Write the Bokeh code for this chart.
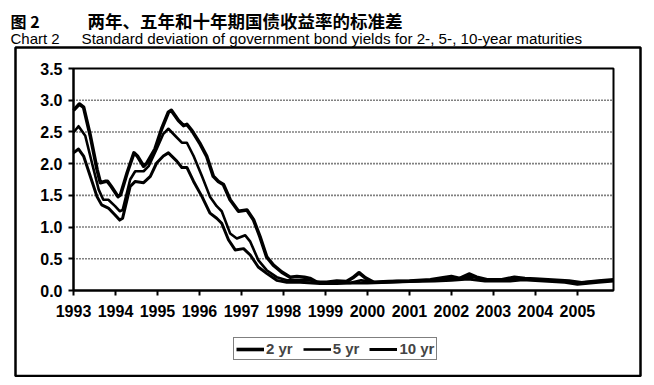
from bokeh.plotting import figure
from bokeh.models import (Range1d, FixedTicker, Label, BoxAnnotation, Legend, LegendItem,
                          NumeralTickFormatter, LinearAxis)
from bokeh.embed import file_html
from bokeh.resources import INLINE

# ---- data ----
x_2yr = [1993.0, 1993.14, 1993.24, 1993.4, 1993.56, 1993.64, 1993.75, 1993.81, 1993.9, 1994.06,
         1994.12, 1994.28, 1994.44, 1994.52, 1994.67, 1994.75, 1994.94, 1995.1, 1995.26, 1995.33,
         1995.5, 1995.62, 1995.7, 1995.82, 1996.0, 1996.17, 1996.33, 1996.45, 1996.57, 1996.73,
         1996.93, 1997.13, 1997.29, 1997.44, 1997.6, 1997.76, 1997.96, 1998.16, 1998.32, 1998.5,
         1998.63, 1998.8, 1999.03, 1999.27, 1999.5, 1999.65, 1999.8, 1999.95, 2000.15, 2000.5,
         2001.0, 2001.5, 2001.8, 2002.0, 2002.2, 2002.42, 2002.6, 2002.85, 2003.2, 2003.5,
         2003.75, 2004.0, 2004.5, 2004.8, 2005.1, 2005.5, 2005.86]
y_2yr = [2.84, 2.94, 2.89, 2.44, 1.91, 1.70, 1.72, 1.72, 1.64, 1.48,
         1.51, 1.86, 2.17, 2.12, 1.96, 2.01, 2.23, 2.55, 2.81, 2.84,
         2.68, 2.60, 2.62, 2.52, 2.33, 2.12, 1.80, 1.72, 1.67, 1.43,
         1.25, 1.27, 1.11, 0.85, 0.53, 0.40, 0.29, 0.21, 0.22, 0.21,
         0.19, 0.13, 0.13, 0.15, 0.14, 0.20, 0.28, 0.20, 0.13, 0.14,
         0.15, 0.17, 0.20, 0.22, 0.19, 0.26, 0.21, 0.17, 0.17, 0.21,
         0.19, 0.18, 0.16, 0.15, 0.12, 0.15, 0.17]

x_5yr = [1993.0, 1993.12, 1993.28, 1993.44, 1993.6, 1993.71, 1993.83, 1993.99, 1994.1, 1994.17,
         1994.35, 1994.47, 1994.67, 1994.79, 1994.98, 1995.14, 1995.26, 1995.42, 1995.58, 1995.7,
         1995.86, 1996.06, 1996.25, 1996.41, 1996.53, 1996.73, 1996.89, 1997.09, 1997.21, 1997.4,
         1997.6, 1997.84, 1998.08, 1998.4, 1998.63, 1998.87, 1999.27, 1999.6, 1999.85, 2000.2,
         2000.7, 2001.2, 2001.7, 2002.0, 2002.3, 2002.5, 2002.8, 2003.3, 2003.6, 2004.0,
         2004.6, 2005.0, 2005.4, 2005.86]
y_5yr = [2.49, 2.59, 2.44, 2.01, 1.59, 1.43, 1.43, 1.33, 1.25, 1.27,
         1.75, 1.88, 1.88, 1.96, 2.23, 2.47, 2.55, 2.44, 2.33, 2.33,
         2.12, 1.80, 1.48, 1.33, 1.25, 0.90, 0.82, 0.87, 0.77, 0.48,
         0.32, 0.21, 0.16, 0.16, 0.16, 0.13, 0.13, 0.12, 0.16, 0.13,
         0.15, 0.15, 0.17, 0.18, 0.20, 0.22, 0.16, 0.16, 0.19, 0.17,
         0.15, 0.12, 0.14, 0.16]

x_10yr = [1993.0, 1993.12, 1993.24, 1993.4, 1993.56, 1993.67, 1993.83, 1993.99, 1994.1, 1994.17,
          1994.35, 1994.47, 1994.67, 1994.83, 1994.98, 1995.14, 1995.26, 1995.46, 1995.58, 1995.7,
          1995.86, 1996.06, 1996.25, 1996.41, 1996.53, 1996.69, 1996.85, 1997.05, 1997.21, 1997.4,
          1997.6, 1997.84, 1998.08, 1998.4, 1998.87, 1999.27, 1999.6, 2000.0, 2000.5, 2001.0,
          2001.6, 2002.0, 2002.4, 2002.8, 2003.4, 2003.7, 2004.2, 2004.7, 2005.0, 2005.5, 2005.86]
y_10yr = [2.17, 2.23, 2.12, 1.80, 1.48, 1.35, 1.30, 1.19, 1.11, 1.14,
          1.64, 1.72, 1.70, 1.80, 2.01, 2.12, 2.17, 2.04, 1.94, 1.94,
          1.72, 1.48, 1.22, 1.14, 1.06, 0.80, 0.64, 0.66, 0.56, 0.37,
          0.27, 0.16, 0.13, 0.13, 0.11, 0.11, 0.12, 0.12, 0.13, 0.14,
          0.15, 0.16, 0.18, 0.15, 0.15, 0.17, 0.15, 0.13, 0.10, 0.13, 0.15]

year_ticks = [1993, 1994, 1995, 1996, 1997, 1998, 1999, 2000, 2001, 2002, 2003, 2004, 2005]
y_ticks = [0.0, 0.5, 1.0, 1.5, 2.0, 2.5, 3.0, 3.5]
grid_levels = [0.5, 1.0, 1.5, 2.0, 2.5, 3.0]
series_names = ["2 yr", "5 yr", "10 yr"]
x_lo, x_hi = 1993.0, 2005.86
y_lo, y_hi = 0.0, 3.5

title_cn_num = "图 2"
title_cn = "两年、五年和十年期国债收益率的标准差"
title_en_num = "Chart 2"
title_en = "Standard deviation of government bond yields for 2-, 5-, 10-year maturities"

FONT = "Liberation Sans"
CJK = "Noto Sans CJK SC"

# ---- canvas geometry (pixels) ----
W, H = 646, 377
PL, PR, PT, PB = 73, 613, 68, 290   # plotting area inside the canvas
xs = (PR - PL) / (x_hi - x_lo)
ys = (PB - PT) / (y_hi - y_lo)
x_range = Range1d(x_lo - PL / xs, x_hi + (W - PR) / xs)
y_range = Range1d(y_lo - (H - PB) / ys, y_hi + PT / ys)

p = figure(width=W, height=H, output_backend="svg", toolbar_location=None,
           x_range=x_range, y_range=y_range, x_axis_location=None, y_axis_location=None,
           min_border=0)
p.background_fill_color = "white"
p.border_fill_color = "white"
p.outline_line_color = None
p.xgrid.visible = False
p.ygrid.visible = False

# dotted grid lines inside the plotting area
p.segment(x0=[x_lo] * len(grid_levels), x1=[x_hi] * len(grid_levels),
          y0=grid_levels, y1=grid_levels, line_color="black", line_width=1.6, line_dash="1 2")

# plot-area frame
p.quad(left=[x_lo], right=[x_hi], bottom=[y_lo], top=[y_hi], fill_color=None,
       line_color="black", line_width=2)

r2 = p.line(x_2yr, y_2yr, line_color="black", line_width=3.6, line_join="round")
r5 = p.line(x_5yr, y_5yr, line_color="black", line_width=2.6, line_join="round")
r10 = p.line(x_10yr, y_10yr, line_color="black", line_width=3.0, line_join="round")

xaxis = LinearAxis(fixed_location=y_lo, bounds=(x_lo, x_hi), ticker=FixedTicker(ticks=year_ticks))
yaxis = LinearAxis(fixed_location=x_lo, bounds=(y_lo, y_hi), ticker=FixedTicker(ticks=y_ticks),
                   formatter=NumeralTickFormatter(format="0.0"))
for ax in (xaxis, yaxis):
    ax.axis_line_color = "black"
    ax.axis_line_width = 2
    ax.major_tick_line_color = "black"
    ax.major_tick_line_width = 2
    ax.major_tick_in = 0
    ax.major_tick_out = 5
    ax.minor_tick_line_color = None
    ax.major_label_text_font = FONT
    ax.major_label_text_font_size = "16px"
    ax.major_label_text_font_style = "bold"
    ax.major_label_text_color = "black"
xaxis.major_label_standoff = 9
yaxis.major_label_standoff = 6
p.add_layout(xaxis, "below")
p.add_layout(yaxis, "left")

# outer chart box
p.add_layout(BoxAnnotation(left=15, right=640, top=330, bottom=1.5,
                           left_units="screen", right_units="screen",
                           top_units="screen", bottom_units="screen",
                           fill_alpha=0, line_color="black", line_alpha=1.0, line_width=2.5))

# titles
p.add_layout(Label(x=10, y=357, x_units="screen", y_units="screen", text=title_cn_num,
                   text_font=CJK, text_font_size="16px", text_font_style="bold",
                   text_color="black", text_baseline="alphabetic"))
p.add_layout(Label(x=87, y=357, x_units="screen", y_units="screen", text=title_cn,
                   text_font=CJK, text_font_size="17.5px", text_font_style="bold",
                   text_color="black", text_baseline="alphabetic"))
p.add_layout(Label(x=10, y=339, x_units="screen", y_units="screen", text=title_en_num,
                   text_font=FONT, text_font_size="15px",
                   text_color="black", text_baseline="alphabetic"))
p.add_layout(Label(x=81, y=339, x_units="screen", y_units="screen", text=title_en,
                   text_font=FONT, text_font_size="15.2px",
                   text_color="black", text_baseline="alphabetic"))

legend = Legend(items=[LegendItem(label=series_names[0], renderers=[r2]),
                       LegendItem(label=series_names[1], renderers=[r5]),
                       LegendItem(label=series_names[2], renderers=[r10])],
                orientation="horizontal", location=(233, 17),
                label_text_font=FONT, label_text_font_size="15px", label_text_font_style="bold",
                glyph_width=28, glyph_height=14, label_standoff=2, spacing=10,
                padding=2, margin=0, border_line_color="black", border_line_width=1.5,
                label_height=14)
p.add_layout(legend, "center")

open("out.html", "w").write(file_html(p, INLINE))
